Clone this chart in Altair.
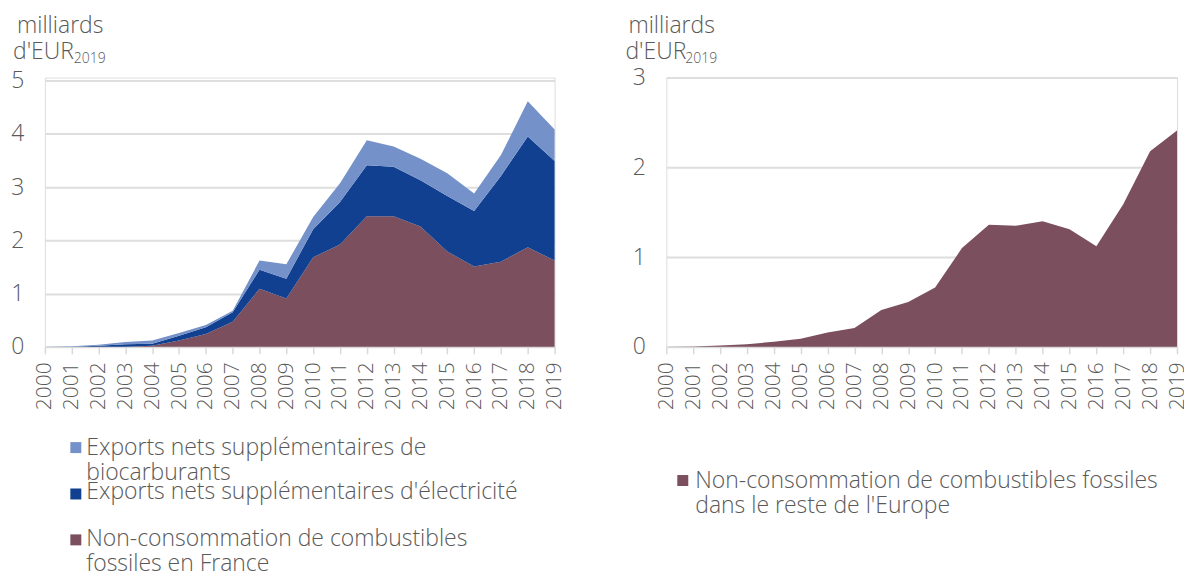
import altair as alt
import pandas as pd

years = list(range(2000, 2020))

# Left panel (France), stacked components, milliards d'EUR2019
france = [0, 0, 0, 0, 0.02, 0.12, 0.24, 0.47, 1.09, 0.91, 1.68, 1.92, 2.45, 2.45, 2.26, 1.79, 1.51, 1.60, 1.87, 1.62]
elec = [0, 0, 0.02, 0.05, 0.04, 0.09, 0.13, 0.18, 0.36, 0.37, 0.53, 0.80, 0.96, 0.93, 0.87, 1.04, 1.04, 1.61, 2.08, 1.87]
bio = [0, 0.01, 0.02, 0.04, 0.06, 0.05, 0.04, 0.03, 0.17, 0.27, 0.23, 0.35, 0.47, 0.38, 0.40, 0.43, 0.33, 0.39, 0.66, 0.59]

# Right panel (rest of Europe)
europe = [0, 0.005, 0.015, 0.03, 0.056, 0.09, 0.16, 0.21, 0.41, 0.50, 0.66, 1.10, 1.36, 1.35, 1.40, 1.31, 1.12, 1.59, 2.18, 2.41]

series_left = [
    "Exports nets supplémentaires de biocarburants",
    "Exports nets supplémentaires d'électricité",
    "Non-consommation de combustibles fossiles en France",
]
colors_left = ["#7591C9", "#10408F", "#7B4F5D"]
legend_left = [
    "Exports nets supplémentaires de\nbiocarburants",
    "Exports nets supplémentaires d'électricité",
    "Non-consommation de combustibles\nfossiles en France",
]
series_right = "Non-consommation de combustibles fossiles dans le reste de l'Europe"
legend_right = "Non-consommation de combustibles fossiles\ndans le reste de l'Europe"
color_right = "#7B4F5D"

left_ticks = [0, 1, 2, 3, 4, 5]
right_ticks = [0, 1, 2, 3]

FONT = "Open Sans"
WEIGHT = 300
GRAY = "#595959"

rows = []
for i, yr in enumerate(years):
    rows.append({"year": yr, "series": series_left[2], "value": france[i], "ord": 0})
    rows.append({"year": yr, "series": series_left[1], "value": elec[i], "ord": 1})
    rows.append({"year": yr, "series": series_left[0], "value": bio[i], "ord": 2})
df_left = pd.DataFrame(rows)
df_right = pd.DataFrame({"year": years, "series": series_right, "value": europe})


def xaxis():
    return alt.Axis(
        values=years, format="d", labelAngle=-90, labelOverlap=False, labelFlush=False,
        labelFontSize=21, labelColor=GRAY, labelFont=FONT, labelFontWeight=WEIGHT, labelPadding=8,
        ticks=True, tickSize=7, tickColor="#d9d9d9", tickWidth=1.5,
        domain=True, domainColor="#d9d9d9", domainWidth=1.5,
        grid=False, title=None,
    )


def yaxis(vals):
    return alt.Axis(
        values=vals, labelFontSize=23, labelColor=GRAY, labelFont=FONT, labelFontWeight=WEIGHT,
        labelPadding=21, ticks=False, domain=False, grid=True, gridColor="#dedede", gridWidth=2,
        title=None,
    )


def text_layer(txt, x, y, size, align="left", baseline="alphabetic", lh=None):
    kw = dict(align=align, baseline=baseline, fontSize=size, font=FONT, fontWeight=WEIGHT,
              color=GRAY, lineBreak="\n")
    if lh is not None:
        kw["lineHeight"] = lh
    return alt.Chart(pd.DataFrame({"t": [txt]})).mark_text(**kw).encode(
        x=alt.value(x), y=alt.value(y), text="t:N"
    )


def square_layer(color, x, y):
    return alt.Chart(pd.DataFrame({"c": [color]})).mark_point(
        shape="square", filled=True, size=121, opacity=1, color=color
    ).encode(x=alt.value(x), y=alt.value(y))


left_area = alt.Chart(df_left).mark_area(interpolate="linear").encode(
    x=alt.X("year:Q", scale=alt.Scale(domain=[2000, 2019], nice=False, zero=False), axis=xaxis()),
    y=alt.Y("sum(value):Q", stack="zero", scale=alt.Scale(domain=[0, 5.056], nice=False), axis=yaxis(left_ticks)),
    color=alt.Color("series:N", scale=alt.Scale(domain=series_left, range=colors_left), legend=None),
    order=alt.Order("ord:Q"),
)

left_layers = [left_area,
               text_layer("milliards", -28, -45, 23),
               text_layer("d'EUR", -32, -19, 23),
               text_layer("2019", 29, -15, 14)]
leg_y_sq = [371, 417.5, 463.5]
leg_y_tx = [378.5, 423, 469.5]
for i in range(3):
    left_layers.append(square_layer(colors_left[i], 31, leg_y_sq[i]))
    left_layers.append(text_layer(legend_left[i], 41.5, leg_y_tx[i], 23, lh=25))

left = alt.layer(*left_layers).properties(width=511, height=270)

right_area = alt.Chart(df_right).mark_area(interpolate="linear", color=color_right).encode(
    x=alt.X("year:Q", scale=alt.Scale(domain=[2000, 2019], nice=False, zero=False), axis=xaxis()),
    y=alt.Y("value:Q", scale=alt.Scale(domain=[0, 3], nice=False), axis=yaxis(right_ticks)),
)
right_layers = [right_area,
                text_layer("milliards", -38, -45, 23),
                text_layer("d'EUR", -41, -19, 23),
                text_layer("2019", 19, -15, 14),
                square_layer(color_right, 16.5, 404),
                text_layer(legend_right, 29, 411.3, 23, lh=25)]
right = alt.layer(*right_layers).properties(width=512, height=270)

chart = alt.hconcat(left, right, spacing=59).properties(
    padding={"left": 2, "top": 5, "right": -4, "bottom": 0}
).configure_view(stroke=None).configure(font=FONT)

chart.save("out.html", embed_options={"renderer": "svg", "actions": False})
